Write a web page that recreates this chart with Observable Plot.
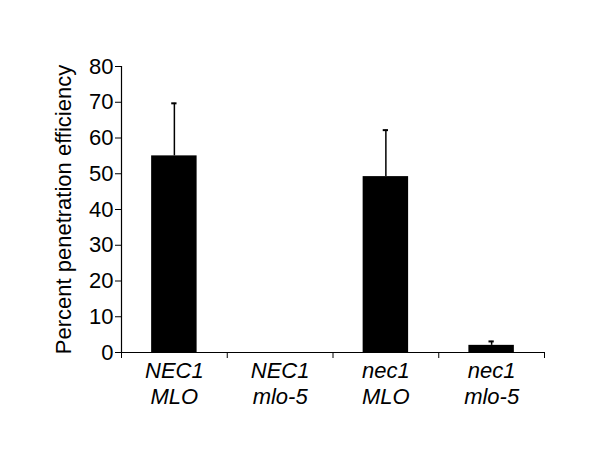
<!DOCTYPE html>
<html>
<head>
<meta charset="utf-8">
<script src="https://cdn.jsdelivr.net/npm/d3@7"></script>
<script src="https://cdn.jsdelivr.net/npm/@observablehq/plot@0.6"></script>
<style>
  html, body { margin: 0; padding: 0; background: #fff; }
  #chart svg { font-family: "Liberation Sans", Arial, sans-serif; }
</style>
</head>
<body>
<div id="chart"></div>
<script>
const categories = ["NEC1\nMLO", "NEC1\nmlo-5", "nec1\nMLO", "nec1\nmlo-5"];
const values = [55, 0, 49.2, 2.0];
const errors = [14.7, 0, 13.0, 1.1];
const yTicks = [0, 10, 20, 30, 40, 50, 60, 70, 80];

const data = categories.map((c, i) => ({
  label: c,
  pos: i + 0.5,
  value: values[i],
  top: values[i] + errors[i]
}));
const halfBar = 0.215;
const halfCap = 0.025;

const chart = Plot.plot({
  width: 600,
  height: 458,
  marginLeft: 121,
  marginRight: 56,
  marginTop: 66,
  marginBottom: 106,
  style: { fontSize: "22px", fontFamily: "'Liberation Sans', Arial, sans-serif", color: "#000" },
  x: { domain: [0, categories.length], label: null },
  y: { domain: [0, 80] },
  marks: [
    Plot.rectY(data, { x1: d => d.pos - halfBar, x2: d => d.pos + halfBar, y1: 0, y2: "value", fill: "#000" }),
    Plot.ruleX(data.filter(d => d.top > d.value), { x: "pos", y1: "value", y2: "top", stroke: "#000", strokeWidth: 1.5 }),
    Plot.ruleY(data.filter(d => d.top > d.value), { y: "top", x1: d => d.pos - halfCap, x2: d => d.pos + halfCap, stroke: "#000", strokeWidth: 2 }),
    Plot.axisY({ ticks: yTicks, tickSize: 6, tickPadding: 2, fontSize: 22, label: "Percent penetration efficiency", labelAnchor: "center", labelArrow: "none", labelOffset: 66, stroke: "#000", strokeOpacity: 1 }),
    Plot.ruleX([0], { stroke: "#000", strokeWidth: 1.2 }),
    Plot.ruleY([0], { stroke: "#000", strokeWidth: 1.2 }),
    Plot.axisX({ ticks: d3.range(categories.length + 1), tickSize: 6, tickFormat: () => "", label: null, stroke: "#000", strokeOpacity: 1 }),
    Plot.axisX({ ticks: data.map(d => d.pos), tickSize: 0, tickPadding: 8, tickFormat: (t, i) => categories[i], fontSize: 22, fontStyle: "italic", lineHeight: 1.15, label: null })
  ]
});
document.getElementById("chart").append(chart);
</script>
</body>
</html>
